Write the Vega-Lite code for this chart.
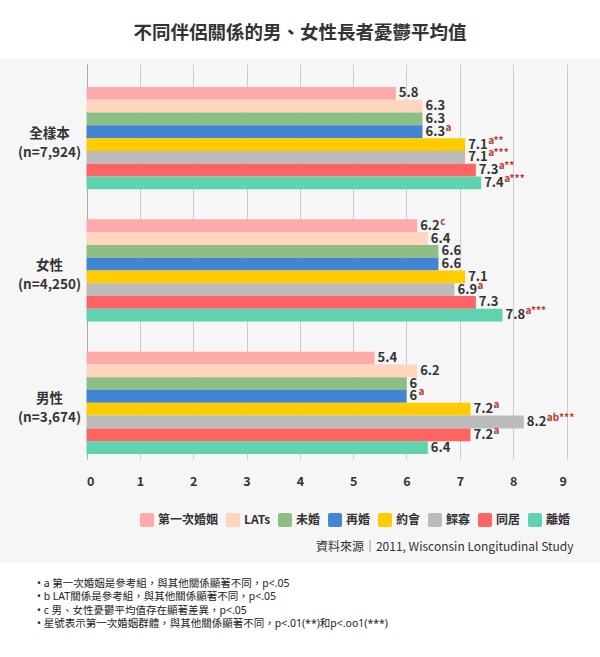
{
  "$schema": "https://vega.github.io/schema/vega-lite/v6.json",
  "background": "#f6f6f6",
  "padding": 0,
  "spacing": 6,
  "config": {
    "view": {"stroke": null},
    "font": "Noto Sans CJK TC",
    "text": {"font": "Noto Sans CJK TC"}
  },
  "datasets": {
    "bars": [
      {"group": "全樣本|(n=7,924)", "rel": "第一次婚姻", "value": 5.8, "sup": ""},
      {"group": "全樣本|(n=7,924)", "rel": "LATs", "value": 6.3, "sup": ""},
      {"group": "全樣本|(n=7,924)", "rel": "未婚", "value": 6.3, "sup": ""},
      {"group": "全樣本|(n=7,924)", "rel": "再婚", "value": 6.3, "sup": "a"},
      {"group": "全樣本|(n=7,924)", "rel": "約會", "value": 7.1, "sup": "a**"},
      {"group": "全樣本|(n=7,924)", "rel": "鰥寡", "value": 7.1, "sup": "a***"},
      {"group": "全樣本|(n=7,924)", "rel": "同居", "value": 7.3, "sup": "a**"},
      {"group": "全樣本|(n=7,924)", "rel": "離婚", "value": 7.4, "sup": "a***"},
      {"group": "女性|(n=4,250)", "rel": "第一次婚姻", "value": 6.2, "sup": "c"},
      {"group": "女性|(n=4,250)", "rel": "LATs", "value": 6.4, "sup": ""},
      {"group": "女性|(n=4,250)", "rel": "未婚", "value": 6.6, "sup": ""},
      {"group": "女性|(n=4,250)", "rel": "再婚", "value": 6.6, "sup": ""},
      {"group": "女性|(n=4,250)", "rel": "約會", "value": 7.1, "sup": ""},
      {"group": "女性|(n=4,250)", "rel": "鰥寡", "value": 6.9, "sup": "a"},
      {"group": "女性|(n=4,250)", "rel": "同居", "value": 7.3, "sup": ""},
      {"group": "女性|(n=4,250)", "rel": "離婚", "value": 7.8, "sup": "a***"},
      {"group": "男性|(n=3,674)", "rel": "第一次婚姻", "value": 5.4, "sup": ""},
      {"group": "男性|(n=3,674)", "rel": "LATs", "value": 6.2, "sup": ""},
      {"group": "男性|(n=3,674)", "rel": "未婚", "value": 6, "sup": ""},
      {"group": "男性|(n=3,674)", "rel": "再婚", "value": 6, "sup": "a"},
      {"group": "男性|(n=3,674)", "rel": "約會", "value": 7.2, "sup": "a"},
      {"group": "男性|(n=3,674)", "rel": "鰥寡", "value": 8.2, "sup": "ab***"},
      {"group": "男性|(n=3,674)", "rel": "同居", "value": 7.2, "sup": "a"},
      {"group": "男性|(n=3,674)", "rel": "離婚", "value": 6.4, "sup": ""}
    ],
    "heading": [{"t": "不同伴侶關係的男、女性長者憂鬱平均值"}],
    "notes": [
      {"line": 1, "note": "• a 第一次婚姻是參考組，與其他關係顯著不同，p<.05"},
      {"line": 2, "note": "• b LAT關係是參考組，與其他關係顯著不同，p<.05"},
      {"line": 3, "note": "• c 男、女性憂鬱平均值存在顯著差異，p<.05"},
      {"line": 4, "note": "• 星號表示第一次婚姻群體，與其他關係顯著不同，p<.01(**)和p<.oo1(***)"}
    ]
  },
  "vconcat": [
    {
      "width": 600,
      "height": 58,
      "view": {"fill": "white", "stroke": null},
      "data": {"name": "heading"},
      "mark": {"type": "text", "fontSize": 18.5, "fontWeight": "bold", "color": "#333333", "dy": 4, "font": "Noto Sans CJK TC"},
      "encoding": {
        "x": {"field": "t", "type": "nominal", "axis": null},
        "y": {"field": "t", "type": "nominal", "axis": null},
        "text": {"field": "t"}
      }
    },
    {
      "width": 600,
      "height": 395,
      "data": {"name": "bars"},
      "encoding": {
        "y": {
          "field": "group", "type": "nominal",
          "sort": ["全樣本|(n=7,924)", "女性|(n=4,250)", "男性|(n=3,674)"],
          "scale": {"paddingInner": 0.227, "paddingOuter": 0.106, "align": 0.82},
          "axis": {
            "title": null, "ticks": false, "tickSize": 0, "domain": false,
            "labelAlign": "center", "labelPadding": -49, "labelFont": "Noto Sans CJK TC",
            "labelFontSize": 13.5, "labelFontWeight": "bold", "labelColor": "#333333",
            "labelLineHeight": 19, "labelExpr": "split(datum.label, '|')", "labelOffset": -4,
            "labelBaseline": "middle", "minExtent": 0, "grid": false, "labelLimit": 200
          }
        },
        "yOffset": {
          "field": "rel", "type": "nominal",
          "sort": ["第一次婚姻", "LATs", "未婚", "再婚", "約會", "鰥寡", "同居", "離婚"],
          "scale": {"paddingInner": 0, "paddingOuter": 0}
        },
        "x": {
          "field": "value", "type": "quantitative",
          "scale": {"domain": [0, 9], "nice": false, "range": [86.5, 566.5]},
          "axis": {
            "title": "資料來源｜2011, Wisconsin Longitudinal Study",
            "values": [0, 1, 2, 3, 4, 5, 6, 7, 8, 9], "format": "d",
            "grid": true,
            "gridColor": {"condition": {"test": "datum.value === 0", "value": "#aaaaaa"}, "value": "#cccccc"},
            "domain": false, "ticks": false, "tickSize": 0,
            "labelPadding": 16, "labelBaseline": "top", "labelFont": "Noto Sans CJK TC",
            "labelFontSize": 12.5, "labelFontWeight": "bold", "labelColor": "#333333",
            "titleFont": "Noto Sans CJK TC", "titleFontSize": 12, "titleFontWeight": "normal",
            "titleColor": "#333333", "titleX": 573, "titleY": 87, "titleAlign": "right",
            "titleAnchor": "end", "titleBaseline": "middle", "minExtent": 98
          }
        }
      },
      "layer": [
        {
          "mark": {"type": "bar"},
          "encoding": {
            "color": {
              "field": "rel", "type": "nominal",
              "scale": {
                "domain": ["第一次婚姻", "LATs", "未婚", "再婚", "約會", "鰥寡", "同居", "離婚"],
                "range": ["#ffaaaa", "#ffd5bd", "#8dbf85", "#4285d4", "#ffcc00", "#bcbcbc", "#ff6464", "#5fd3b0"]
              },
              "legend": {
                "orient": "none", "legendX": 140, "legendY": 513, "direction": "horizontal", "columns": 8,
                "title": null,
                "symbolType": "M-0.7,-1H0.7A0.3,0.3 0 0 1 1,-0.7V0.7A0.3,0.3 0 0 1 0.7,1H-0.7A0.3,0.3 0 0 1 -1,0.7V-0.7A0.3,0.3 0 0 1 -0.7,-1Z",
                "symbolSize": 196, "symbolStrokeWidth": 0, "symbolOpacity": 1,
                "labelFont": "Noto Sans CJK TC", "labelFontSize": 12, "labelFontWeight": "bold",
                "labelColor": "#333333", "labelOffset": 4, "columnPadding": 7, "padding": 0, "labelLimit": 200
              }
            }
          }
        },
        {
          "mark": {"type": "text", "align": "left", "baseline": "middle", "dx": 3, "fontSize": 13, "fontWeight": "bold", "color": "#333333", "font": "Noto Sans CJK TC"},
          "encoding": {"text": {"field": "value", "type": "quantitative", "format": ".2~r"}}
        },
        {
          "transform": [{"filter": "datum.sup != '' && datum.value % 1 != 0"}],
          "mark": {"type": "text", "align": "left", "baseline": "alphabetic", "dx": 23, "dy": -1, "fontSize": 10, "fontWeight": "bold", "color": "#c0392b", "font": "Noto Sans CJK TC"},
          "encoding": {"text": {"field": "sup"}}
        },
        {
          "transform": [{"filter": "datum.sup != '' && datum.value % 1 == 0"}],
          "mark": {"type": "text", "align": "left", "baseline": "alphabetic", "dx": 12, "dy": -1, "fontSize": 10, "fontWeight": "bold", "color": "#c0392b", "font": "Noto Sans CJK TC"},
          "encoding": {"text": {"field": "sup"}}
        }
      ]
    },
    {
      "width": 600,
      "height": 94,
      "view": {"fill": "white", "stroke": null},
      "data": {"name": "notes"},
      "mark": {"type": "text", "align": "left", "baseline": "middle", "fontSize": 10.5, "color": "#222222", "font": "Noto Sans, Noto Sans CJK TC"},
      "encoding": {
        "y": {"field": "line", "type": "ordinal", "scale": {"type": "point", "range": [21, 61], "padding": 0}, "axis": null},
        "x": {"datum": 37, "type": "quantitative", "scale": {"domain": [0, 600], "nice": false, "zero": false}, "axis": null},
        "text": {"field": "note"}
      }
    }
  ],
  "resolve": {"scale": {"x": "independent", "y": "independent"}}
}
